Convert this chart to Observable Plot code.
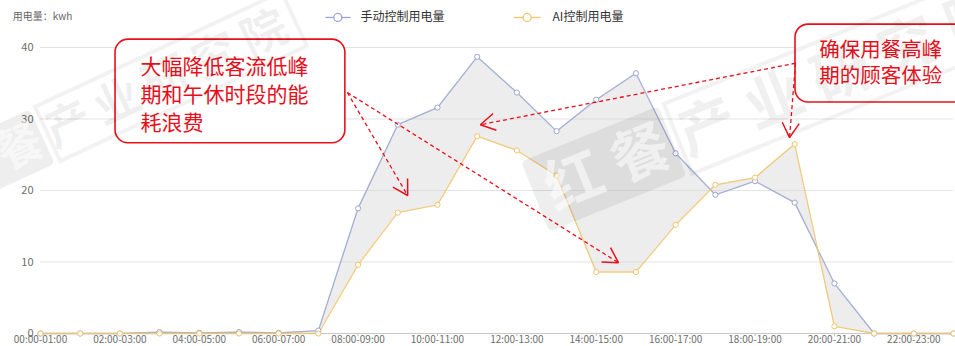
<!DOCTYPE html>
<html><head><meta charset="utf-8">
<script src="https://cdn.jsdelivr.net/npm/d3@7"></script>
<script src="https://cdn.jsdelivr.net/npm/@observablehq/plot@0.6"></script>
<style>
html,body{margin:0;padding:0;background:#fff;}
#chart{width:955px;height:346px;overflow:hidden;}
svg{overflow:visible;}
</style></head><body><div id="chart"></div>
<script>
// ---- data ----
const hours = ["00:00-01:00","01:00-02:00","02:00-03:00","03:00-04:00","04:00-05:00","05:00-06:00",
  "06:00-07:00","07:00-08:00","08:00-09:00","09:00-10:00","10:00-11:00","11:00-12:00",
  "12:00-13:00","13:00-14:00","14:00-15:00","15:00-16:00","16:00-17:00","17:00-18:00",
  "18:00-19:00","19:00-20:00","20:00-21:00","21:00-22:00","22:00-23:00","23:00-24:00"];
const manualKwh = [0,0,0,0.2,0.1,0.2,0.1,0.4,17.5,29.2,31.6,38.7,33.7,28.3,32.7,36.4,25.2,19.4,21.3,18.3,7.0,0,0,0];
const aiKwh     = [0,0,0,0,0,0,0,0,9.6,16.9,18.0,27.6,25.6,22.1,8.6,8.6,15.2,20.8,21.8,26.5,1.0,0,0,0];
const seriesNames = ["手动控制用电量","AI控制用电量"];
const seriesColors = ["#9ca6d2","#f0c56f"];
const yTicks = [0,10,20,30,40];
const unitLabel = "用电量：kwh";
const note1Lines = ["大幅降低客流低峰","期和午休时段的能","耗浪费"];
const note2Lines = ["确保用餐高峰","期的顾客体验"];
const watermarkText = "红餐产业研究院";

// ---- annotation placement (data units: x = hour index, y = kWh) ----
const boxes = [
  {x1:1.89, x2:7.68, y1:26.6, y2:41.1},
  {x1:19.02, x2:23.6, y1:32.3, y2:43.2}
];
const note1Pos = [{x:2.52, y:37.2}, {x:2.52, y:33.3}, {x:2.52, y:29.4}];
const note2Pos = [{x:19.62, y:39.6}, {x:19.62, y:35.9}];
const arrows = [
  {x1:7.73, y1:33.7, x2:9.25, y2:19.3},
  {x1:7.73, y1:33.7, x2:14.56, y2:9.9},
  {x1:19.02, y1:37.8, x2:11.08, y2:29.2},
  {x1:19.02, y1:37.8, x2:18.87, y2:27.4}
];
const legendPos = [
  {x1:7.18, x2:7.81, xd:7.49, xt:8.06, y:44.2},
  {x1:11.92, x2:12.6, xd:12.26, xt:12.9, y:44.2}
];
const watermarks = [
  {x:1.95, y:32.4, rotate:-25, size:46, step:54},
  {x:18.5, y:32.6, rotate:-22, size:58, step:72}
];

const RED = "#e8101c";
const rows = hours.map((h, i) => ({i, h, manual: manualKwh[i], ai: aiKwh[i]}));
const long = rows.flatMap(d => [
  {i: d.i, v: d.manual, s: seriesNames[0]},
  {i: d.i, v: d.ai, s: seriesNames[1]}
]);
const legend = seriesNames.map((s, k) => ({s, ...legendPos[k]}));
const note1 = note1Lines.map((t, k) => ({text: t, ...note1Pos[k]}));
const note2 = note2Lines.map((t, k) => ({text: t, ...note2Pos[k]}));
const SVGNS = "http://www.w3.org/2000/svg";

function arrowMark(data) {
  return Plot.link(data, {
    x1: "x1", y1: "y1", x2: "x2", y2: "y2",
    stroke: RED, strokeWidth: 1.3, strokeDasharray: "4,3",
    render(index, scales, values, dimensions, context, next) {
      const g = next(index, scales, values, dimensions, context);
      const doc = (context && context.document) || document;
      const X1 = values.x1, Y1 = values.y1, X2 = values.x2, Y2 = values.y2;
      for (const i of index) {
        const a = Math.atan2(Y2[i] - Y1[i], X2[i] - X1[i]);
        const L = 17, h = Math.PI / 6;
        const d = `M${X2[i] - L * Math.cos(a - h)},${Y2[i] - L * Math.sin(a - h)}L${X2[i]},${Y2[i]}L${X2[i] - L * Math.cos(a + h)},${Y2[i] - L * Math.sin(a + h)}`;
        const p = doc.createElementNS(SVGNS, "path");
        p.setAttribute("d", d);
        p.setAttribute("fill", "none");
        p.setAttribute("stroke", RED);
        p.setAttribute("stroke-width", "1.5");
        p.setAttribute("stroke-dasharray", "none");
        g.appendChild(p);
      }
      return g;
    }
  });
}

// watermark: "红餐" knocked out of a filled box, "产业研究院" inside an outlined box
function watermarkMark(w) {
  return Plot.dot([w], {
    x: "x", y: "y", r: 0,
    render(index, scales, values, dimensions, context) {
      const doc = (context && context.document) || document;
      const cx = values.x[0], cy = values.y[0];
      const g = doc.createElementNS(SVGNS, "g");
      g.setAttribute("transform", `translate(${cx},${cy}) rotate(${w.rotate})`);
      g.setAttribute("font-family", "'Noto Sans CJK SC', sans-serif");
      g.setAttribute("font-weight", "bold");
      g.setAttribute("font-size", w.size);
      const s = w.step, hgt = w.size * 1.3;
      const chars = Array.from(watermarkText);
      const filled = doc.createElementNS(SVGNS, "rect");
      filled.setAttribute("x", -3.5 * s - 6); filled.setAttribute("width", 2 * s + 4);
      filled.setAttribute("y", -hgt / 2); filled.setAttribute("height", hgt);
      filled.setAttribute("rx", 5);
      filled.setAttribute("fill", "#000"); filled.setAttribute("fill-opacity", 0.065);
      g.appendChild(filled);
      const outline = doc.createElementNS(SVGNS, "rect");
      outline.setAttribute("x", -1.5 * s + 4); outline.setAttribute("width", 5 * s + 2);
      outline.setAttribute("y", -hgt / 2); outline.setAttribute("height", hgt);
      outline.setAttribute("fill", "none"); outline.setAttribute("stroke", "#000");
      outline.setAttribute("stroke-opacity", 0.05); outline.setAttribute("stroke-width", 4);
      g.appendChild(outline);
      chars.forEach((c, k) => {
        const t = doc.createElementNS(SVGNS, "text");
        t.setAttribute("x", (k - 3) * s);
        t.setAttribute("y", 0);
        t.setAttribute("dy", "0.35em");
        t.setAttribute("text-anchor", "middle");
        if (k < 2) { t.setAttribute("fill", "#fff"); t.setAttribute("fill-opacity", 0.55); }
        else { t.setAttribute("fill", "#000"); t.setAttribute("fill-opacity", 0.06); }
        t.textContent = c;
        g.appendChild(t);
      });
      return g;
    }
  });
}

const chart = Plot.plot({
  width: 955, height: 346,
  marginLeft: 40, marginRight: 2, marginTop: 47, marginBottom: 13,
  style: {fontFamily: "'Noto Sans CJK SC', 'Noto Sans', sans-serif", background: "#fff", overflow: "visible"},
  x: {type: "linear", domain: [0, hours.length - 1], label: null},
  y: {domain: [0, 40], label: null},
  color: {domain: seriesNames, range: seriesColors},
  marks: [
    Plot.gridY(yTicks.filter(t => t > 0), {stroke: "#e3e3e3", strokeOpacity: 1}),
    Plot.axisY(yTicks, {tickSize: 0, tickPadding: 7, fontSize: 11, fill: "#6e6e6e", label: null}),
    Plot.axisX(d3.range(0, hours.length, 2), {tickFormat: i => hours[i], tickSize: 3, tickPadding: -1, fontSize: 10, fill: "#6e6e6e", stroke: "#bbb", label: null}),
    Plot.ruleY([0], {stroke: "#c8c8c8"}),
    Plot.areaY(rows, {x: "i", y1: "ai", y2: "manual", fill: "#d8d8d8", fillOpacity: 0.45}),
    Plot.line(long, {x: "i", y: "v", z: "s", stroke: "s", strokeWidth: 1.3, strokeOpacity: 0.9}),
    Plot.dot(long, {x: "i", y: "v", stroke: "s", fill: "white", r: 2.6, strokeWidth: 1}),
    // legend
    Plot.link(legend, {x1: "x1", x2: "x2", y1: "y", y2: "y", stroke: "s", strokeWidth: 1.3}),
    Plot.dot(legend, {x: "xd", y: "y", stroke: "s", fill: "white", r: 4, strokeWidth: 1.3}),
    Plot.text(legend, {x: "xt", y: "y", text: "s", textAnchor: "start", fontSize: 12, fill: "#333"}),
    Plot.text([unitLabel], {x: () => -0.7, y: () => 44.3, text: d => d, textAnchor: "start", fontSize: 10, fill: "#666"}),
    // annotations
    Plot.rect(boxes, {x1: "x1", x2: "x2", y1: "y1", y2: "y2", fill: "white", stroke: RED, strokeWidth: 1.6, rx: 13}),
    Plot.text(note1, {x: "x", y: "y", text: "text", textAnchor: "start", fontSize: 21, fill: RED}),
    Plot.text(note2, {x: "x", y: "y", text: "text", textAnchor: "start", fontSize: 20.5, fill: RED}),
    arrowMark(arrows),
    // watermarks
    ...watermarks.map(watermarkMark)
  ]
});
document.getElementById("chart").appendChild(chart);
</script>
</body></html>
